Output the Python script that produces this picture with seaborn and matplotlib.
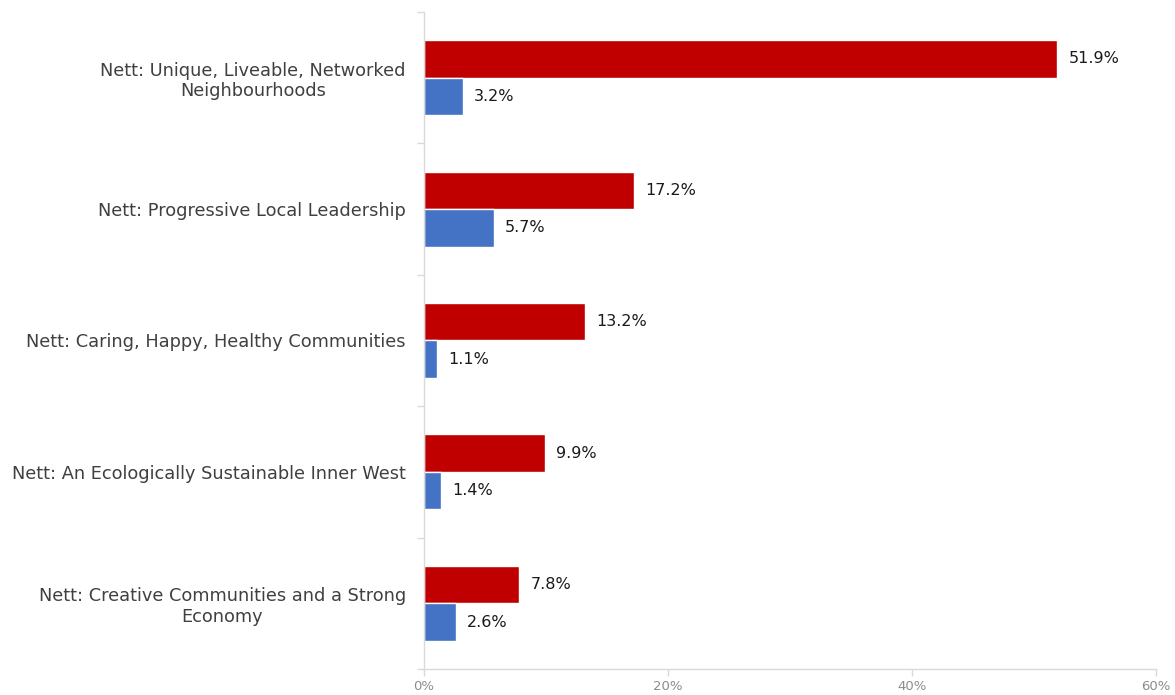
import matplotlib.pyplot as plt
import seaborn as sns
import pandas as pd
import numpy as np
from matplotlib.ticker import FixedLocator, PercentFormatter

categories = [
    'Nett: Unique, Liveable, Networked\nNeighbourhoods',
    'Nett: Progressive Local Leadership',
    'Nett: Caring, Happy, Healthy Communities',
    'Nett: An Ecologically Sustainable Inner West',
    'Nett: Creative Communities and a Strong\nEconomy',
]
series_names = ['Series 1', 'Series 2']
red_values = [51.9, 17.2, 13.2, 9.9, 7.8]
blue_values = [3.2, 5.7, 1.1, 1.4, 2.6]
x_ticks = [0, 20, 40, 60]

df = pd.DataFrame({
    'category': categories * 2,
    'series': [series_names[0]] * 5 + [series_names[1]] * 5,
    'value': red_values + blue_values,
})

sns.set_style('white')
plt.rcParams['font.family'] = ['DejaVu Sans']

fig = plt.figure(figsize=(11.75, 6.95), dpi=100)
ax = fig.add_axes([424 / 1175, 26 / 695, (1156 - 424) / 1175, (683 - 26) / 695])

sns.barplot(data=df, y='category', x='value', hue='series', orient='h',
            palette=['#C00000', '#4472C4'], width=0.57, dodge=True,
            saturation=1, legend=False, ax=ax)

# data labels
for container in ax.containers:
    ax.bar_label(container, labels=[f'{v:.1f}%' for v in container.datavalues],
                 padding=8, fontsize=11.5, color='#1a1a1a')

ax.set_xlim(0, 60)
ax.set_ylim(len(categories) - 0.5, -0.5)
ax.set_xticks(x_ticks)
ax.xaxis.set_major_formatter(PercentFormatter(decimals=0))
ax.tick_params(axis='x', labelsize=9.5, labelcolor='#8c8c8c', color='#d9d9d9',
               length=5, width=1, bottom=True, pad=3)

ax.set_yticks(range(len(categories)))
ax.set_yticklabels(categories, ha='right', multialignment='center',
                   fontsize=12.8, color='#404040')
ax.tick_params(axis='y', which='major', length=0, pad=13)
ax.yaxis.set_minor_locator(FixedLocator(np.arange(-0.5, len(categories), 1)))
ax.tick_params(axis='y', which='minor', length=5, color='#d9d9d9', width=1, left=True)

ax.set_xlabel('')
ax.set_ylabel('')
for side in ['top', 'right']:
    ax.spines[side].set_visible(False)
for side in ['left', 'bottom']:
    ax.spines[side].set_color('#d9d9d9')
    ax.spines[side].set_linewidth(1)

fig.savefig('out.png', dpi=100)
